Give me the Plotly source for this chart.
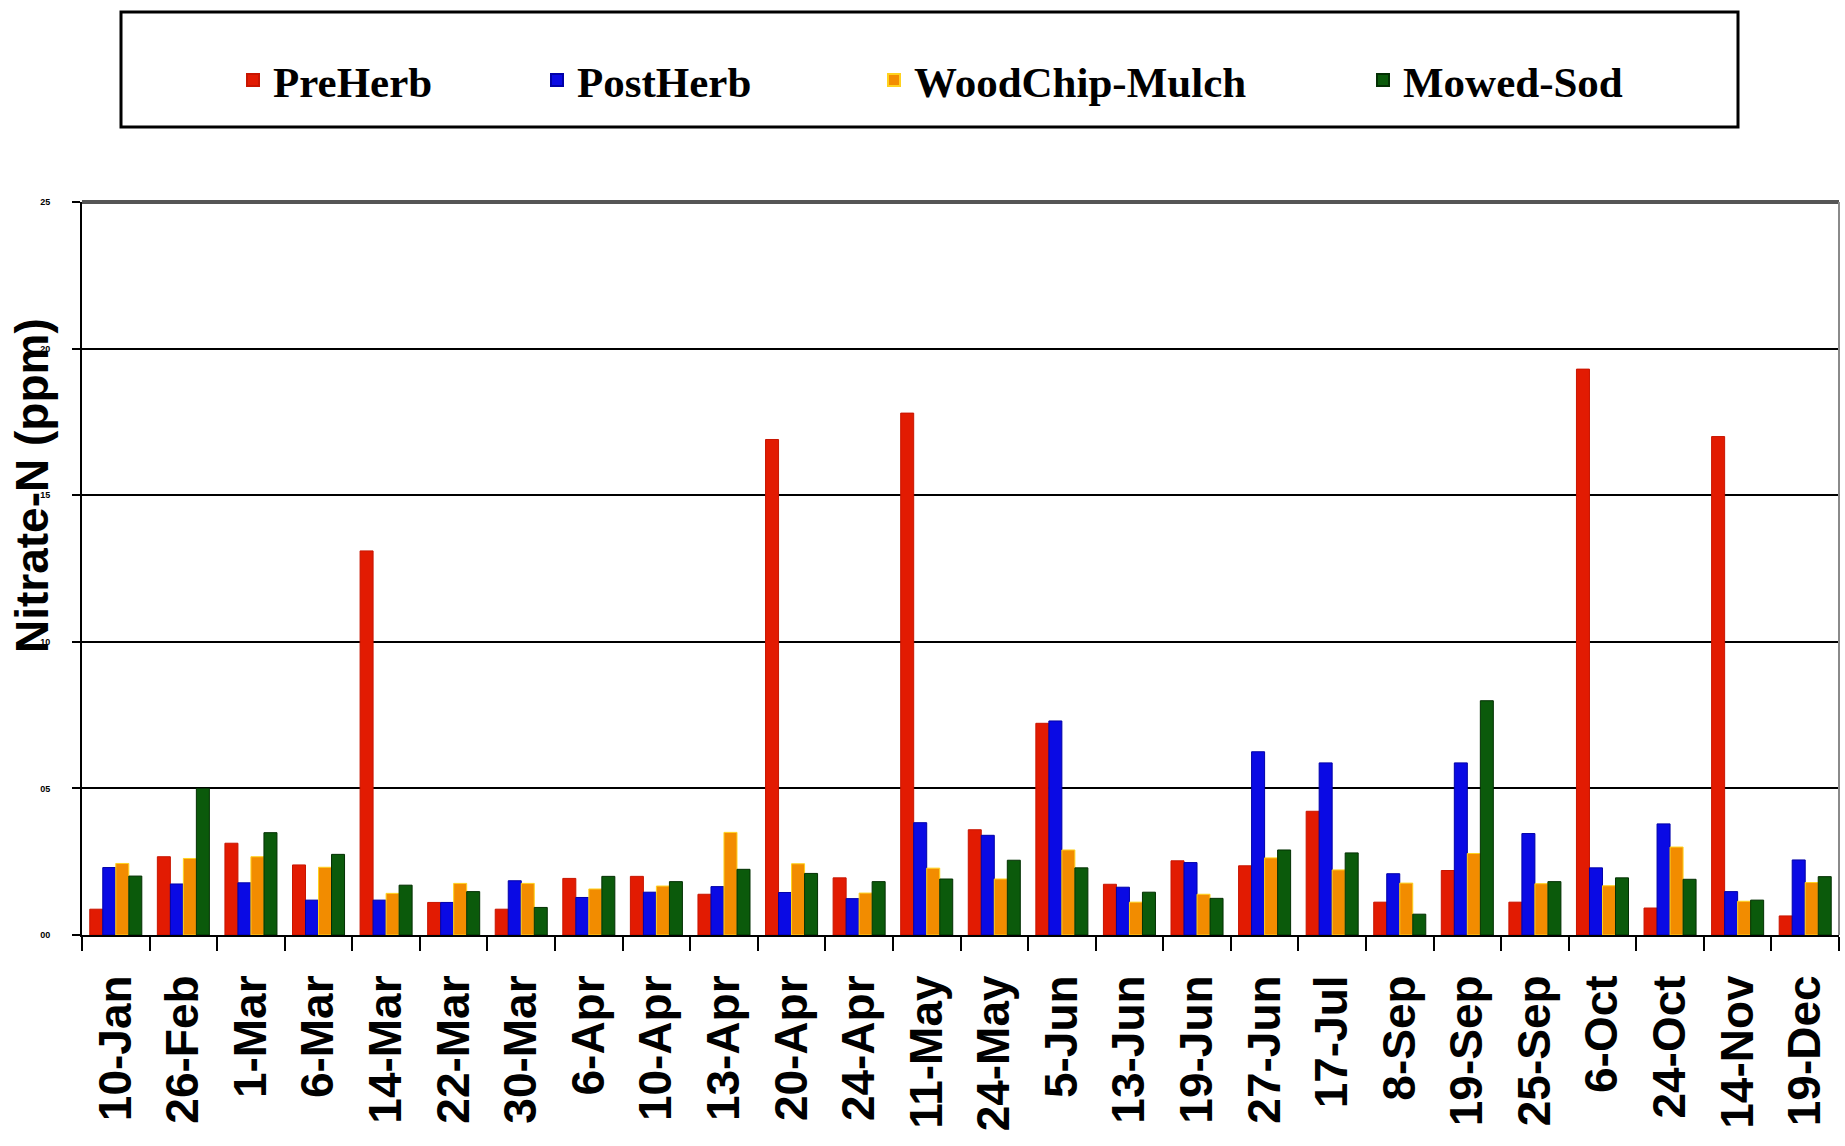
import plotly.graph_objects as go

# Sampling dates (category axis)
dates = ["10-Jan", "26-Feb", "1-Mar", "6-Mar", "14-Mar", "22-Mar", "30-Mar",
         "6-Apr", "10-Apr", "13-Apr", "20-Apr", "24-Apr", "11-May", "24-May",
         "5-Jun", "13-Jun", "19-Jun", "27-Jun", "17-Jul", "8-Sep", "19-Sep",
         "25-Sep", "6-Oct", "24-Oct", "14-Nov", "19-Dec"]

# Nitrate-N by floor-management treatment
pre_herb = [0.88, 2.67, 3.13, 2.39, 13.1, 1.11, 0.88, 1.93, 2.00, 1.39, 16.9, 1.95, 17.8,
            3.59, 7.22, 1.73, 2.53, 2.36, 4.22, 1.12, 2.20, 1.12, 19.3, 0.92, 17.0, 0.65]
post_herb = [2.30, 1.74, 1.78, 1.19, 1.19, 1.11, 1.85, 1.28, 1.46, 1.65, 1.45, 1.24, 3.83,
             3.40, 7.30, 1.63, 2.47, 6.25, 5.87, 2.09, 5.87, 3.46, 2.29, 3.79, 1.48, 2.56]
woodchip = [2.44, 2.61, 2.67, 2.31, 1.42, 1.76, 1.76, 1.57, 1.67, 3.50, 2.43, 1.43, 2.28,
            1.91, 2.90, 1.12, 1.39, 2.63, 2.22, 1.77, 2.78, 1.75, 1.68, 3.00, 1.15, 1.79]
mowed_sod = [2.01, 5.00, 3.49, 2.75, 1.70, 1.48, 0.94, 2.00, 1.82, 2.24, 2.10, 1.82, 1.91,
             2.55, 2.29, 1.46, 1.25, 2.90, 2.80, 0.71, 7.99, 1.82, 1.95, 1.90, 1.19, 1.99]

y_ticks = [0, 5, 10, 15, 20, 25]
y_tick_text = ["00", "05", "10", "15", "20", "25"]

series = [
    ("PreHerb", pre_herb, "#e21b02", "#c81500"),
    ("PostHerb", post_herb, "#0a0ae4", "#0000a8"),
    ("WoodChip-Mulch", woodchip, "#f28c00", "#ffd21e"),
    ("Mowed-Sod", mowed_sod, "#0b5a0b", "#033003"),
]

# pixel geometry of the plot area
W, H = 1845, 1146
L, R, T, B = 82, 6, 202, 211
PW, PH = W - L - R, H - T - B


def px_x(p):
    return (p - L) / PW


def px_y(p):
    return (H - B - p) / PH


legend_text_starts = [273, 577, 914, 1403]
legend_names = ["legend", "legend2", "legend3", "legend4"]

fig = go.Figure()
for (name, vals, color, edge), lg in zip(series, legend_names):
    fig.add_trace(go.Bar(
        name=name, x=dates, y=vals, legend=lg,
        marker=dict(color=color, line=dict(color=edge, width=1)),
    ))

legend_font = dict(family="Liberation Serif", size=43, color="black", weight="bold")
legend_layout = {}
for lg, tx in zip(legend_names, legend_text_starts):
    legend_layout[lg] = dict(
        x=px_x(tx - 40), y=px_y(80), xanchor="left", yanchor="middle",
        orientation="h", font=legend_font, bgcolor="rgba(0,0,0,0)",
        borderwidth=0, itemsizing="constant",
    )

fig.update_layout(
    width=W, height=H,
    margin=dict(l=L, r=R, t=T, b=B),
    paper_bgcolor="white", plot_bgcolor="white",
    barmode="group", bargap=0.23, bargroupgap=0.0,
    showlegend=True,
    **legend_layout,
    xaxis=dict(
        type="category", showline=True, linecolor="black", linewidth=2,
        ticks="outside", tickson="boundaries", ticklen=14, tickwidth=2,
        tickcolor="black", tickangle=-90, showgrid=False,
        tickfont=dict(family="Liberation Sans", size=46, color="black", weight="bold"),
        ticklabelstandoff=20,
    ),
    yaxis=dict(
        range=[0, 25], tickmode="array", tickvals=y_ticks, ticktext=y_tick_text,
        showline=True, linecolor="black", linewidth=2, ticks="outside",
        ticklen=8, tickwidth=2, tickcolor="black",
        showgrid=True, gridcolor="black", gridwidth=2, zeroline=False,
        tickfont=dict(family="Liberation Sans", size=9, color="black", weight="bold"),
        ticklabelstandoff=20,
    ),
    shapes=[
        # plot frame: top and right edges
        dict(type="line", xref="paper", yref="paper", x0=0, x1=1, y0=1, y1=1,
             line=dict(color="#555555", width=4)),
        dict(type="line", xref="paper", yref="paper", x0=1, x1=1, y0=0, y1=1,
             line=dict(color="#8a8a8a", width=2)),
        # legend box
        dict(type="rect", xref="paper", yref="paper",
             x0=px_x(121), x1=px_x(1738), y0=px_y(127), y1=px_y(12),
             line=dict(color="black", width=3), fillcolor="rgba(0,0,0,0)"),
    ],
    annotations=[
        dict(text="Nitrate-N (ppm)", xref="paper", yref="paper",
             x=px_x(32), y=px_y(486), xanchor="center", yanchor="middle",
             textangle=-90, showarrow=False,
             font=dict(family="Liberation Sans", size=46, color="black", weight="bold")),
    ],
)

fig.write_html("out.html")
